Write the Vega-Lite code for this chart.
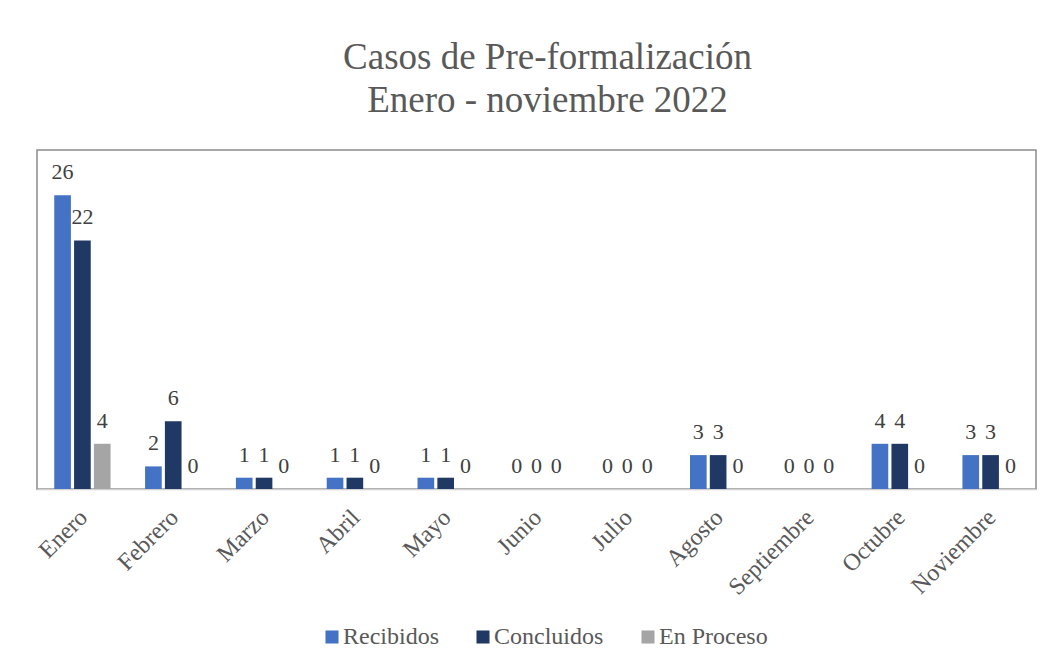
{
  "$schema": "https://vega.github.io/schema/vega-lite/v6.json",
  "autosize": {"type": "none"},
  "width": 999,
  "height": 339,
  "padding": {"left": 37, "top": 150, "right": 14, "bottom": 179},
  "background": "white",
  "title": {
    "text": ["Casos de Pre-formalización", "Enero - noviembre 2022"],
    "font": "Liberation Serif",
    "fontSize": 37,
    "fontWeight": "normal",
    "color": "#595959",
    "lineHeight": 43,
    "anchor": "middle",
    "dx": 11,
    "offset": 30
  },
  "config": {
    "view": {"stroke": "#8c8c8c", "strokeWidth": 1.5},
    "font": "Liberation Serif"
  },
  "data": {
    "values": [
      {"mes": "Enero", "serie": "Recibidos", "valor": 26},
      {"mes": "Enero", "serie": "Concluidos", "valor": 22},
      {"mes": "Enero", "serie": "En Proceso", "valor": 4},
      {"mes": "Febrero", "serie": "Recibidos", "valor": 2},
      {"mes": "Febrero", "serie": "Concluidos", "valor": 6},
      {"mes": "Febrero", "serie": "En Proceso", "valor": 0},
      {"mes": "Marzo", "serie": "Recibidos", "valor": 1},
      {"mes": "Marzo", "serie": "Concluidos", "valor": 1},
      {"mes": "Marzo", "serie": "En Proceso", "valor": 0},
      {"mes": "Abril", "serie": "Recibidos", "valor": 1},
      {"mes": "Abril", "serie": "Concluidos", "valor": 1},
      {"mes": "Abril", "serie": "En Proceso", "valor": 0},
      {"mes": "Mayo", "serie": "Recibidos", "valor": 1},
      {"mes": "Mayo", "serie": "Concluidos", "valor": 1},
      {"mes": "Mayo", "serie": "En Proceso", "valor": 0},
      {"mes": "Junio", "serie": "Recibidos", "valor": 0},
      {"mes": "Junio", "serie": "Concluidos", "valor": 0},
      {"mes": "Junio", "serie": "En Proceso", "valor": 0},
      {"mes": "Julio", "serie": "Recibidos", "valor": 0},
      {"mes": "Julio", "serie": "Concluidos", "valor": 0},
      {"mes": "Julio", "serie": "En Proceso", "valor": 0},
      {"mes": "Agosto", "serie": "Recibidos", "valor": 3},
      {"mes": "Agosto", "serie": "Concluidos", "valor": 3},
      {"mes": "Agosto", "serie": "En Proceso", "valor": 0},
      {"mes": "Septiembre", "serie": "Recibidos", "valor": 0},
      {"mes": "Septiembre", "serie": "Concluidos", "valor": 0},
      {"mes": "Septiembre", "serie": "En Proceso", "valor": 0},
      {"mes": "Octubre", "serie": "Recibidos", "valor": 4},
      {"mes": "Octubre", "serie": "Concluidos", "valor": 4},
      {"mes": "Octubre", "serie": "En Proceso", "valor": 0},
      {"mes": "Noviembre", "serie": "Recibidos", "valor": 3},
      {"mes": "Noviembre", "serie": "Concluidos", "valor": 3},
      {"mes": "Noviembre", "serie": "En Proceso", "valor": 0}
    ]
  },
  "encoding": {
    "x": {
      "field": "mes",
      "type": "nominal",
      "sort": null,
      "scale": {"paddingInner": 0.38, "paddingOuter": 0.19},
      "axis": {
        "title": null,
        "labelAngle": -45,
        "labelFont": "Liberation Serif",
        "labelFontSize": 24,
        "labelColor": "#595959",
        "labelPadding": 16,
        "labelOffset": -7,
        "ticks": false,
        "domainColor": "#d0d0d0",
        "domainWidth": 1.5
      }
    },
    "xOffset": {
      "field": "serie",
      "type": "nominal",
      "sort": ["Recibidos", "Concluidos", "En Proceso"],
      "scale": {"paddingInner": 0.16, "paddingOuter": 0}
    },
    "y": {
      "field": "valor",
      "type": "quantitative",
      "scale": {"domain": [0, 30], "nice": false},
      "axis": null
    }
  },
  "layer": [
    {
      "mark": {"type": "bar"},
      "encoding": {
        "color": {
          "field": "serie",
          "type": "nominal",
          "sort": ["Recibidos", "Concluidos", "En Proceso"],
          "scale": {
            "domain": ["Recibidos", "Concluidos", "En Proceso"],
            "range": ["#4472C4", "#203864", "#A5A5A5"]
          },
          "legend": {
            "title": null,
            "orient": "none",
            "legendX": 283,
            "legendY": 475,
            "direction": "horizontal",
            "symbolType": "square",
            "symbolSize": 170,
            "symbolStrokeWidth": 0,
            "labelFont": "Liberation Serif",
            "labelFontSize": 24,
            "labelColor": "#595959",
            "labelOffset": -1,
            "columnPadding": 32
          }
        }
      }
    },
    {
      "mark": {
        "type": "text",
        "baseline": "bottom",
        "dy": -11,
        "font": "Liberation Serif",
        "fontSize": 22,
        "color": "#404040"
      },
      "encoding": {
        "text": {"field": "valor", "type": "quantitative"}
      }
    }
  ]
}
